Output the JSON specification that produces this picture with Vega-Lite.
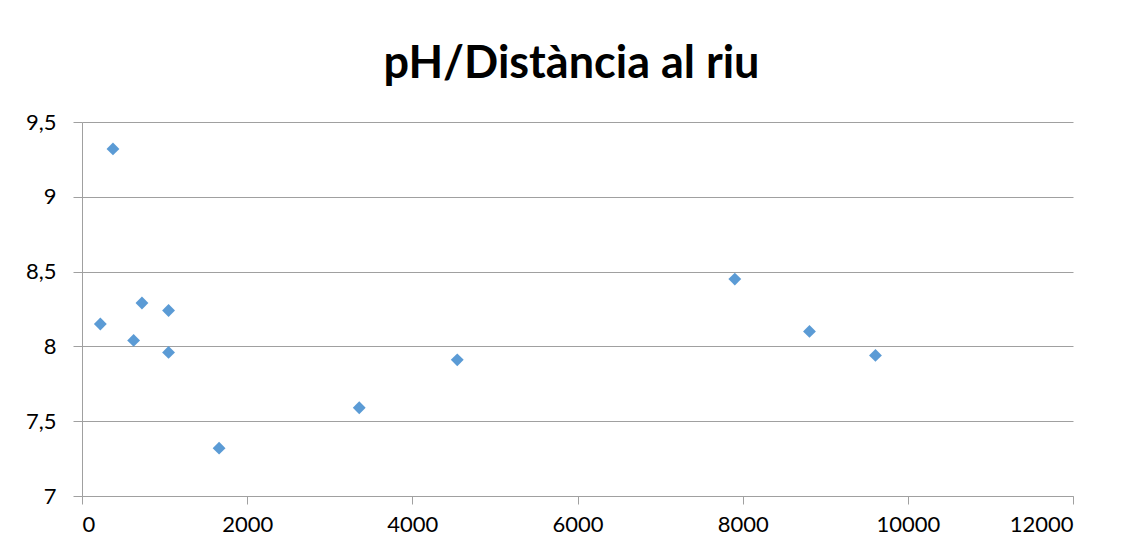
{
  "$schema": "https://vega.github.io/schema/vega-lite/v6.json",
  "width": 991,
  "height": 374,
  "autosize": {"type": "none"},
  "padding": {"left": 82, "top": 122, "right": 59, "bottom": 59},
  "background": "white",
  "title": {
    "text": "pH/Distància al riu",
    "font": "Lato",
    "fontWeight": "bold",
    "fontSize": 45,
    "color": "#000000",
    "anchor": "middle",
    "offset": 24,
    "dx": -6
  },
  "data": {
    "values": [
      {"dist": 222, "ph": 8.15},
      {"dist": 375, "ph": 9.32},
      {"dist": 625, "ph": 8.04},
      {"dist": 726, "ph": 8.29},
      {"dist": 1048, "ph": 8.24},
      {"dist": 1048, "ph": 7.96},
      {"dist": 1660, "ph": 7.32},
      {"dist": 3357, "ph": 7.59},
      {"dist": 4544, "ph": 7.91},
      {"dist": 7905, "ph": 8.45},
      {"dist": 8809, "ph": 8.10},
      {"dist": 9608, "ph": 7.94}
    ]
  },
  "mark": {"type": "point", "shape": "diamond", "filled": true, "size": 165, "color": "#5B9BD5", "opacity": 1},
  "encoding": {
    "x": {
      "field": "dist",
      "type": "quantitative",
      "scale": {"domain": [0, 12000], "nice": false, "zero": false},
      "axis": {
        "title": null,
        "values": [0, 2000, 4000, 6000, 8000, 10000, 12000],
        "format": "d",
        "grid": false,
        "domainColor": "#A0A0A0",
        "tickColor": "#A0A0A0",
        "tickSize": 8,
        "labelPadding": 10,
        "labelFont": "Lato",
        "labelFontSize": 22,
        "labelColor": "#000000"
      }
    },
    "y": {
      "field": "ph",
      "type": "quantitative",
      "scale": {"domain": [7, 9.5], "nice": false, "zero": false},
      "axis": {
        "title": null,
        "values": [7, 7.5, 8, 8.5, 9, 9.5],
        "labelExpr": "replace(format(datum.value, ''), '.', ',')",
        "grid": true,
        "gridColor": "#A0A0A0",
        "gridWidth": 1,
        "domainColor": "#A0A0A0",
        "tickColor": "#A0A0A0",
        "tickSize": 9,
        "labelPadding": 17,
        "labelFont": "Lato",
        "labelFontSize": 22,
        "labelColor": "#000000"
      }
    }
  },
  "config": {"view": {"stroke": null}}
}
